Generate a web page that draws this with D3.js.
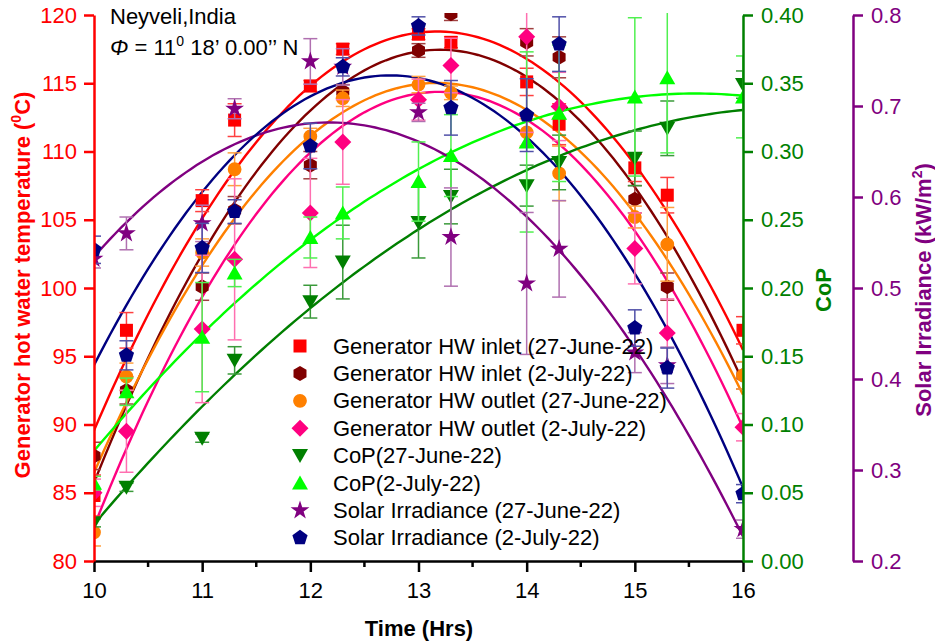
<!doctype html>
<html lang="en">
<head>
  <meta charset="utf-8">
  <title>Generator hot water temperature, CoP and solar irradiance</title>
  <style>
  body { margin: 0; background: #fff; }
  svg { font-family: "Liberation Sans", Arial, sans-serif; }
  .fit { fill: none; stroke-width: 2.4px; }
  </style>
</head>
<body>
<div id="chart"></div>
<script src="https://d3js.org/d3.v7.min.js" charset="utf-8"></script>
<script>

//------------------data
var hours = [10, 10.3, 11, 11.3, 12, 12.3, 13, 13.3, 14, 14.3, 15, 15.3, 16];

var inletJune  = [84.8, 96.9, 106.4, 112.3, 114.8, 117.5, 118.6, 118.0, 115.1, 112.0, 108.8, 106.8, 96.9];
var inletJuly  = [87.7, 92.5, 100.1, 105.7, 109.0, 114.4, 117.4, 120.1, 118.0, 116.9, 106.5, 100.1, 93.6];
var outletJune = [82.1, 93.5, 102.6, 108.7, 111.1, 113.9, 114.9, 114.3, 111.4, 108.4, 105.2, 103.2, 93.6];
var outletJuly = [85.0, 89.5, 97.0, 102.1, 105.5, 110.7, 113.8, 116.3, 118.4, 113.3, 102.9, 96.7, 89.8];
var copJune    = [0.028, 0.054, 0.090, 0.147, 0.190, 0.219, 0.248, 0.267, 0.275, 0.292, 0.295, 0.317, 0.349];
var copJuly    = [0.057, 0.124, 0.164, 0.211, 0.237, 0.255, 0.278, 0.297, 0.307, 0.328, 0.340, 0.354, 0.340];
var solarJune  = [0.532, 0.560, 0.571, 0.697, 0.749, 0.743, 0.693, 0.556, 0.505, 0.543, 0.429, 0.415, 0.235];
var solarJuly  = [0.542, 0.426, 0.544, 0.584, 0.656, 0.743, 0.788, 0.698, 0.690, 0.768, 0.456, 0.412, 0.274];

// error bar half widths
var inletJuneErr  = [1.5, 1.3, 0.8, 1.2, 0.4, 0.4, 0.4, 0.4, 1.0, 1.5, 1.0, 1.3, 1.0];
var inletJulyErr  = [1.0, 1.0, 1.0, 1.0, 1.0, 0.5, 0.5, 0.5, 1.0, 1.5, 1.0, 1.0, 1.0];
var outletJuneErr = [1.0, 1.0, 1.0, 1.2, 0.6, 0.6, 0.6, 0.5, 1.0, 2.0, 0.8, 2.7, 1.0];
var outletJulyErr = [1.0, 3.0, 5.4, 5.9, 4.0, 3.1, 1.5, 2.0, 7.0, 2.5, 2.6, 2.5, 1.0];
var copJuneErr    = [0.003, 0.003, 0.003, 0.010, 0.012, 0.027, 0.026, 0.020, 0.015, 0.020, 0.020, 0.020, 0.010];
var copJulyErr    = [0.005, 0.010, 0.040, 0.010, 0.015, 0.019, 0.029, 0.030, 0.066, 0.050, 0.058, 0.055, 0.030];
var solarJuneErr  = [0.010, 0.018, 0.020, 0.011, 0.025, 0.020, 0.010, 0.054, 0.078, 0.053, 0.022, 0.020, 0.010];
var solarJulyErr  = [0.015, 0.016, 0.027, 0.013, 0.025, 0.010, 0.010, 0.030, 0.040, 0.030, 0.020, 0.022, 0.010];

var xTicks = [10, 11, 12, 13, 14, 15, 16];
var tempTicks = [80, 85, 90, 95, 100, 105, 110, 115, 120];
var copTicks = [0, 0.05, 0.10, 0.15, 0.20, 0.25, 0.30, 0.35, 0.40];
var solarTicks = [0.2, 0.3, 0.4, 0.5, 0.6, 0.7, 0.8];

//------------------svg and scales
var width = 935, height = 643;
var plotL = 94, plotR = 743, plotT = 15, plotB = 561;

var svg = d3.select("#chart").append("svg")
    .attr("width", width).attr("height", height);

var x = d3.scaleLinear().domain([10, 16]).range([plotL, plotR]);
var yT = d3.scaleLinear().domain([80, 120]).range([plotB, plotT]);
var yC = d3.scaleLinear().domain([0, 0.4]).range([plotB, plotT]);
var yS = d3.scaleLinear().domain([0.2, 0.8]).range([plotB, plotT]);

svg.append("clipPath").attr("id", "plotclip")
  .append("rect").attr("x", plotL).attr("y", plotT - 2)
  .attr("width", plotR - plotL).attr("height", plotB - plotT + 2);

//------------------marker shapes
function polygon(n, r, rot) {
  var pts = [];
  for (var i = 0; i < n; i++) {
    var a = rot + i * 2 * Math.PI / n;
    pts.push([r * Math.sin(a), -r * Math.cos(a)]);
  }
  return "M" + pts.join("L") + "Z";
}
var shapes = {
  square: "M-6.5,-6.5H6.5V6.5H-6.5Z",
  hexagon: polygon(6, 7.5, 0),
  circle: d3.symbol(d3.symbolCircle, 150)(),
  diamond: polygon(4, 8.5, 0),
  down: "M-8,-6.5L8,-6.5L0,7.5Z",
  up: "M-8,6.5L8,6.5L0,-7.5Z",
  star: d3.symbol(d3.symbolStar, 110)(),
  pentagon: polygon(5, 8, 0)
};

var series = [
  {name: "Generator HW inlet (27-June-22)", vals: inletJune, err: inletJuneErr, y: yT, color: "#ff0000", bar: "#ff4040", shape: "square"},
  {name: "Generator HW inlet (2-July-22)", vals: inletJuly, err: inletJulyErr, y: yT, color: "#800000", bar: "#a04040", shape: "hexagon"},
  {name: "Generator HW outlet (27-June-22)", vals: outletJune, err: outletJuneErr, y: yT, color: "#ff8000", bar: "#ffa040", shape: "circle"},
  {name: "Generator HW outlet (2-July-22)", vals: outletJuly, err: outletJulyErr, y: yT, color: "#ff0080", bar: "#ff6fb0", shape: "diamond"},
  {name: "CoP(27-June-22)", vals: copJune, err: copJuneErr, y: yC, color: "#007f00", bar: "#3a9a3a", shape: "down"},
  {name: "CoP(2-July-22)", vals: copJuly, err: copJulyErr, y: yC, color: "#00ff00", bar: "#50f050", shape: "up"},
  {name: "Solar Irradiance (27-June-22)", vals: solarJune, err: solarJuneErr, y: yS, color: "#800080", bar: "#b070b0", shape: "star"},
  {name: "Solar Irradiance (2-July-22)", vals: solarJuly, err: solarJulyErr, y: yS, color: "#000080", bar: "#5050a8", shape: "pentagon"}
];

//------------------quadratic least squares fit
function quadFit(xs, ys) {
  var s = [0, 0, 0, 0, 0], t = [0, 0, 0];
  xs.forEach(function(xv, i) {
    var u = xv - 13;
    for (var k = 0; k < 5; k++) s[k] += Math.pow(u, k);
    for (var k = 0; k < 3; k++) t[k] += ys[i] * Math.pow(u, k);
  });
  var A = [[s[0], s[1], s[2], t[0]], [s[1], s[2], s[3], t[1]], [s[2], s[3], s[4], t[2]]];
  for (var i = 0; i < 3; i++) {
    for (var j = i + 1; j < 3; j++) {
      var f = A[j][i] / A[i][i];
      for (var k = i; k < 4; k++) A[j][k] -= f * A[i][k];
    }
  }
  var c = [0, 0, 0];
  for (var i = 2; i >= 0; i--) {
    var v = A[i][3];
    for (var k = i + 1; k < 3; k++) v -= A[i][k] * c[k];
    c[i] = v / A[i][i];
  }
  return function(xv) { var u = xv - 13; return c[0] + c[1] * u + c[2] * u * u; };
}

var plot = svg.append("g").attr("clip-path", "url(#plotclip)");

// fit curves
series.forEach(function(s) {
  var f = quadFit(hours, s.vals);
  var pts = d3.range(10, 16.001, 0.05);
  plot.append("path").attr("class", "fit")
    .attr("stroke", s.color)
    .attr("d", d3.line().x(function(d) { return x(d); }).y(function(d) { return s.y(f(d)); })(pts));
});

// error bars and markers
series.forEach(function(s) {
  var g = plot.append("g");
  hours.forEach(function(h, i) {
    var cx = x(h), y0 = s.y(s.vals[i] - s.err[i]), y1 = s.y(s.vals[i] + s.err[i]);
    g.append("line").attr("x1", cx).attr("x2", cx).attr("y1", y0).attr("y2", y1)
      .attr("stroke", s.bar).attr("stroke-width", 1.5);
    [y0, y1].forEach(function(yy) {
      g.append("line").attr("x1", cx - 7).attr("x2", cx + 7).attr("y1", yy).attr("y2", yy)
        .attr("stroke", s.bar).attr("stroke-width", 1.5);
    });
  });
  g.selectAll("path.m").data(s.vals).enter().append("path")
    .attr("class", "m")
    .attr("d", shapes[s.shape])
    .attr("fill", s.color)
    .attr("transform", function(d, i) { return "translate(" + x(hours[i]) + "," + s.y(d) + ")"; });
});

//------------------axes
function styleAxis(g, color) {
  g.attr("font-size", null).attr("font-family", null);
  g.select(".domain").attr("stroke", color).attr("stroke-width", 2.5);
  g.selectAll(".tick line").attr("stroke", color).attr("stroke-width", 2.5);
  g.selectAll(".tick text").attr("fill", color).style("font-size", "22px")
    .style("font-family", "'Liberation Sans', Arial, sans-serif");
}

var xAxis = svg.append("g").attr("transform", "translate(0," + plotB + ")")
  .call(d3.axisBottom(x).tickValues(xTicks).tickFormat(d3.format("d")).tickSize(11).tickSizeOuter(0).tickPadding(10));
styleAxis(xAxis, "#000");
xAxis.selectAll(".minor").data([10.5, 11.5, 12.5, 13.5, 14.5, 15.5]).enter()
  .append("line").attr("class", "minor")
  .attr("x1", function(d) { return x(d); }).attr("x2", function(d) { return x(d); })
  .attr("y1", 0).attr("y2", 6).attr("stroke", "#000").attr("stroke-width", 2.5);

var tAxis = svg.append("g").attr("transform", "translate(" + plotL + ",0)")
  .call(d3.axisLeft(yT).tickValues(tempTicks).tickSize(10).tickSizeOuter(0).tickPadding(7));
styleAxis(tAxis, "#ff0000");

var cAxis = svg.append("g").attr("transform", "translate(" + plotR + ",0)")
  .call(d3.axisRight(yC).tickValues(copTicks).tickFormat(d3.format(".2f")).tickSize(10).tickSizeOuter(0).tickPadding(8));
styleAxis(cAxis, "#008000");

var sAxis = svg.append("g").attr("transform", "translate(853,0)")
  .call(d3.axisRight(yS).tickValues(solarTicks).tickFormat(d3.format(".1f")).tickSize(10).tickSizeOuter(0).tickPadding(8));
styleAxis(sAxis, "#800080");

//------------------axis titles
svg.append("text").attr("x", 419).attr("y", 636).attr("text-anchor", "middle")
  .style("font-size", "22px").style("font-weight", "bold").text("Time (Hrs)");

var lt = svg.append("text").attr("transform", "translate(30,285) rotate(-90)")
  .attr("text-anchor", "middle").attr("fill", "#ff0000")
  .style("font-size", "22px").style("font-weight", "bold");
lt.append("tspan").text("Generator hot water temperature (");
lt.append("tspan").attr("dy", -9).style("font-size", "14px").text("0");
lt.append("tspan").attr("dy", 9).text("C)");

svg.append("text").attr("transform", "translate(831,290) rotate(-90)")
  .attr("text-anchor", "middle").attr("fill", "#008000")
  .style("font-size", "22px").style("font-weight", "bold").text("CoP");

var rt = svg.append("text").attr("transform", "translate(931,290) rotate(-90)")
  .attr("text-anchor", "middle").attr("fill", "#800080")
  .style("font-size", "22px").style("font-weight", "bold");
rt.append("tspan").text("Solar Irradiance (kW/m");
rt.append("tspan").attr("dy", -9).style("font-size", "14px").text("2");
rt.append("tspan").attr("dy", 9).text(")");

//------------------location note
svg.append("text").attr("x", 110).attr("y", 24).style("font-size", "22px").text("Neyveli,India");
var phi = svg.append("text").attr("x", 110).attr("y", 55).style("font-size", "22px");
phi.append("tspan").style("font-style", "italic").text("\u03A6");
phi.append("tspan").text(" = 11");
phi.append("tspan").attr("dy", -9).style("font-size", "14px").text("0");
phi.append("tspan").attr("dy", 9).text(" 18\u2019 0.00\u2019\u2019 N");

//------------------legend
var legend = svg.append("g").attr("transform", "translate(300,346)");
series.forEach(function(s, i) {
  var row = legend.append("g").attr("transform", "translate(0," + (i * 27.4) + ")");
  row.append("path").attr("d", shapes[s.shape]).attr("fill", s.color);
  row.append("text").attr("x", 33).attr("y", 7.5).style("font-size", "22px").text(s.name);
});

</script>
</body>
</html>
